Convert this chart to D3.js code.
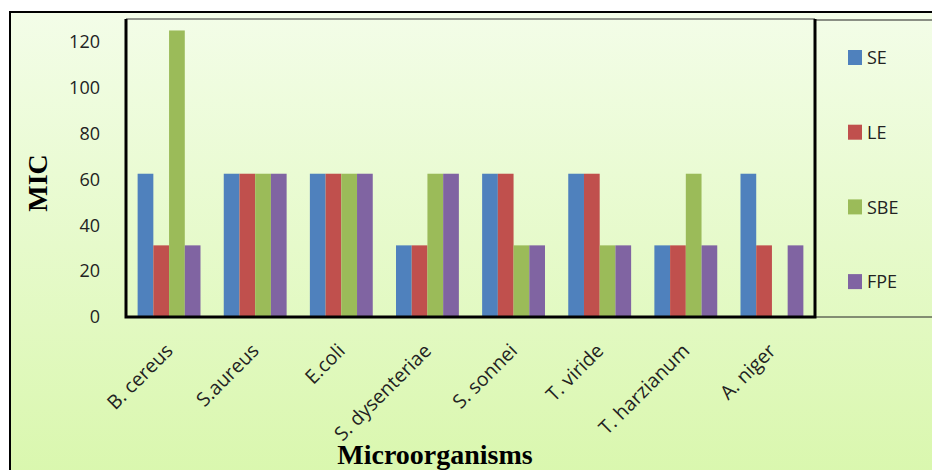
<!DOCTYPE html>
<html>
<head>
<meta charset="utf-8">
<script src="https://cdn.jsdelivr.net/npm/d3@7"></script>
<style>
  body { margin: 0; background: #fff; }
  svg { display: block; }
</style>
</head>
<body>
<div id="chart"></div>
<script>
// data (MIC values)
const organisms = ['B. cereus', 'S.aureus', 'E.coli', 'S. dysenteriae', 'S. sonnei', 'T. viride', 'T. harzianum', 'A. niger'];
const seriesNames = ['SE', 'LE', 'SBE', 'FPE'];
const seValues  = [62.5, 62.5, 62.5, 31.25, 62.5, 62.5, 31.25, 62.5];
const leValues  = [31.25, 62.5, 62.5, 31.25, 62.5, 62.5, 31.25, 31.25];
const sbeValues = [125, 62.5, 62.5, 62.5, 31.25, 31.25, 62.5, 0];
const fpeValues = [31.25, 62.5, 62.5, 62.5, 31.25, 31.25, 31.25, 31.25];
const yTicks = [0, 20, 40, 60, 80, 100, 120];
const seriesColors = ['#4f81bd', '#c0504d', '#9bbb59', '#8064a2'];

const allValues = [seValues, leValues, sbeValues, fpeValues];
const rows = organisms.map((name, i) => ({
    name: name,
    values: seriesNames.map((s, j) => ({ key: s, value: allValues[j][i] }))
}));

const width = 932, height = 470;
const plot = { left: 126, top: 19, right: 815, bottom: 317 };
const labelFont = 'Open Sans, Liberation Sans, Arial, sans-serif';
const titleFont = 'Liberation Serif, Times New Roman, serif';

const svg = d3.select('#chart').append('svg')
    .attr('width', width)
    .attr('height', height);

const defs = svg.append('defs');
const grad = defs.append('linearGradient')
    .attr('id', 'bg-grad')
    .attr('x1', 0).attr('y1', 0).attr('x2', 0).attr('y2', 1);
grad.append('stop').attr('offset', '0%').attr('stop-color', '#f3fde8');
grad.append('stop').attr('offset', '100%').attr('stop-color', '#d9f7ad');

// outer chart area
svg.append('rect')
    .attr('x', 10).attr('y', 12)
    .attr('width', width).attr('height', height)
    .attr('fill', 'url(#bg-grad)')
    .attr('stroke', '#000')
    .attr('stroke-width', 2);

// legend box
svg.append('rect')
    .attr('x', plot.right).attr('y', 20)
    .attr('width', width - plot.right + 5).attr('height', 297)
    .attr('fill', 'none')
    .attr('stroke', '#222')
    .attr('stroke-width', 1);

const x0 = d3.scaleBand()
    .domain(organisms)
    .range([plot.left, plot.right])
    .paddingInner(0.27)
    .paddingOuter(0.135);

const x1 = d3.scaleBand()
    .domain(seriesNames)
    .range([0, x0.bandwidth()]);

const y = d3.scaleLinear()
    .domain([0, 130])
    .range([plot.bottom, plot.top]);

const color = d3.scaleOrdinal()
    .domain(seriesNames)
    .range(seriesColors);

// bars
const groups = svg.append('g')
    .selectAll('g')
    .data(rows)
    .join('g')
    .attr('transform', d => `translate(${x0(d.name)},0)`);

groups.selectAll('rect')
    .data(d => d.values.filter(v => v.value > 0))
    .join('rect')
    .attr('x', d => x1(d.key))
    .attr('y', d => y(d.value))
    .attr('width', x1.bandwidth())
    .attr('height', d => y(0) - y(d.value))
    .attr('fill', d => color(d.key));

// y axis labels
const yAxis = d3.axisLeft(y)
    .tickValues(yTicks)
    .tickSize(0)
    .tickPadding(26);

svg.append('g')
    .attr('transform', `translate(${plot.left},0)`)
    .call(yAxis)
    .call(g => g.select('.domain').remove())
    .selectAll('text')
    .attr('font-family', labelFont)
    .attr('font-size', 18)
    .attr('fill', '#222');

// x axis labels, rotated
const xAxis = d3.axisBottom(x0)
    .tickSize(0)
    .tickPadding(0);

svg.append('g')
    .attr('transform', `translate(0,${plot.bottom})`)
    .call(xAxis)
    .call(g => g.select('.domain').remove())
    .selectAll('text')
    .attr('font-family', labelFont)
    .attr('font-size', 19.5)
    .attr('fill', '#222')
    .attr('text-anchor', 'end')
    .attr('dy', 0)
    .attr('y', 0)
    .attr('transform', 'translate(5,35) rotate(-45)');

// plot frame: thin top, thick left/right/bottom
svg.append('line')
    .attr('x1', plot.left).attr('x2', plot.right)
    .attr('y1', plot.top).attr('y2', plot.top)
    .attr('stroke', '#333').attr('stroke-width', 1);
svg.append('path')
    .attr('d', `M${plot.left},${plot.top} V${plot.bottom} H${plot.right} V${plot.top}`)
    .attr('fill', 'none')
    .attr('stroke', '#000')
    .attr('stroke-width', 3);

// axis titles
svg.append('text')
    .attr('transform', 'translate(47,183) rotate(-90)')
    .attr('text-anchor', 'middle')
    .attr('font-family', titleFont)
    .attr('font-weight', 'bold')
    .attr('font-size', 28)
    .text('MIC');

svg.append('text')
    .attr('x', 435)
    .attr('y', 464)
    .attr('text-anchor', 'middle')
    .attr('font-family', titleFont)
    .attr('font-weight', 'bold')
    .attr('font-size', 28)
    .text('Microorganisms');

// legend
const legend = svg.append('g')
    .selectAll('g')
    .data(seriesNames)
    .join('g')
    .attr('transform', (d, i) => `translate(848,${50 + i * 74.7})`);

legend.append('rect')
    .attr('width', 14)
    .attr('height', 15)
    .attr('fill', d => color(d));

legend.append('text')
    .attr('x', 19)
    .attr('y', 8)
    .attr('dy', '0.35em')
    .attr('font-family', labelFont)
    .attr('font-size', 18)
    .attr('fill', '#222')
    .text(d => d);
</script>
</body>
</html>
